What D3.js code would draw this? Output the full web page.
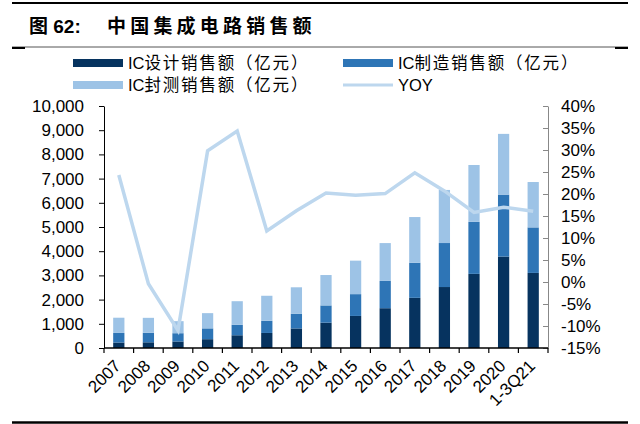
<!DOCTYPE html>
<html lang="zh">
<head>
<meta charset="UTF-8">
<title>中国集成电路销售额</title>
<style>
  body { margin: 0; background: #fff; }
  text { font-family: "Liberation Sans", Arial, "Noto Sans CJK SC", sans-serif; }
</style>
</head>
<body>
<script src="https://cdn.jsdelivr.net/npm/d3@7"></script>
<script>
// data (亿元, %)
var years = ["2007","2008","2009","2010","2011","2012","2013","2014","2015","2016","2017","2018","2019","2020","1-3Q21"];
var design  = [225.7, 235.2, 269.9, 363.9, 526.4, 621.7, 808.8, 1047.4, 1325.0, 1644.3, 2073.5, 2519.3, 3063.5, 3778.4, 3102.8];
var manufac = [397.9, 392.9, 341.1, 447.1, 431.6, 501.1, 600.9, 712.1, 900.8, 1126.9, 1448.1, 1818.2, 2149.1, 2560.1, 1880.7];
var packag  = [627.7, 618.7, 498.1, 629.2, 975.7, 1035.7, 1098.8, 1255.9, 1384.0, 1564.3, 1889.7, 2193.9, 2349.7, 2509.5, 1875.1];
var yoy     = [24.3, -0.4, -11.0, 29.8, 34.3, 11.6, 16.2, 20.2, 19.7, 20.1, 24.8, 20.7, 15.8, 17.0, 16.1];
var leftTicks  = [0,1000,2000,3000,4000,5000,6000,7000,8000,9000,10000];
var rightTicks = [-15,-10,-5,0,5,10,15,20,25,30,35,40];
var seriesNames = ["IC设计销售额（亿元）", "IC制造销售额（亿元）", "IC封测销售额（亿元）", "YOY"];
var colors = ["#06335f", "#2e75b6", "#9dc3e6", "#bdd7ee"];

var svg = d3.select("body").append("svg").attr("width", 640).attr("height", 424);

// frame lines + title
svg.append("line").attr("x1", 12).attr("x2", 628).attr("y1", 3).attr("y2", 3)
  .attr("stroke", "#000").attr("stroke-width", 2);
svg.append("line").attr("x1", 12).attr("x2", 628).attr("y1", 47).attr("y2", 47)
  .attr("stroke", "#555").attr("stroke-width", 1);
svg.append("line").attr("x1", 12).attr("x2", 25).attr("y1", 48).attr("y2", 48)
  .attr("stroke", "#000").attr("stroke-width", 2);
svg.append("line").attr("x1", 615).attr("x2", 628).attr("y1", 48).attr("y2", 48)
  .attr("stroke", "#000").attr("stroke-width", 2);
svg.append("line").attr("x1", 12).attr("x2", 628).attr("y1", 422.5).attr("y2", 422.5)
  .attr("stroke", "#000").attr("stroke-width", 2.5);

svg.append("text").attr("x", 29).attr("y", 33)
  .style("font-size", "19px").style("font-weight", "bold")
  .text("图 62:");
svg.append("text").attr("x", 107).attr("y", 33)
  .style("font-size", "19px").style("font-weight", "bold").style("letter-spacing", "4.2px")
  .text("中国集成电路销售额");

// scales
var pLeft = 104, pRight = 548, pTop = 106, pBottom = 348;
var x = d3.scaleBand().domain(years).range([pLeft, pRight]).paddingInner(0.62).paddingOuter(0.31);
var yL = d3.scaleLinear().domain([0, 10000]).range([pBottom, pTop]);
var yR = d3.scaleLinear().domain([-15, 40]).range([pBottom, pTop]);

// stacked bars
var rows = years.map(function(y, i){ return {year: y, design: design[i], manufac: manufac[i], packag: packag[i]}; });
var stack = d3.stack().keys(["design", "manufac", "packag"])(rows);
svg.selectAll(".layer").data(stack).enter().append("g")
  .attr("fill", function(d, i){ return colors[i]; })
  .selectAll("rect").data(function(d){ return d; }).enter().append("rect")
  .attr("x", function(d){ return x(d.data.year); })
  .attr("width", x.bandwidth())
  .attr("y", function(d){ return yL(d[1]); })
  .attr("height", function(d){ return yL(d[0]) - yL(d[1]); });

// yoy line
var line = d3.line()
  .x(function(d, i){ return x(years[i]) + x.bandwidth() / 2; })
  .y(function(d){ return yR(d); });
svg.append("path").datum(yoy).attr("d", line)
  .attr("fill", "none").attr("stroke", colors[3]).attr("stroke-width", 3.5)
  .attr("stroke-linejoin", "miter");

// left axis
var gL = svg.append("g").attr("transform", "translate(" + pLeft + ",0)")
  .call(d3.axisLeft(yL).tickValues(leftTicks).tickSizeInner(5).tickSizeOuter(0).tickPadding(15)
    .tickFormat(d3.format(",")));
gL.selectAll("text").style("font-size", "17px").attr("fill", "#000");
gL.selectAll("line,path").attr("stroke", "#000");

// right axis
var gR = svg.append("g").attr("transform", "translate(" + pRight + ",0)")
  .call(d3.axisRight(yR).tickValues(rightTicks).tickSizeInner(-5).tickSizeOuter(0).tickPadding(13)
    .tickFormat(function(d){ return d + "%"; }));
gR.selectAll("text").style("font-size", "17px").attr("fill", "#000");
gR.selectAll("line,path").attr("stroke", "#888");

// x axis: line, boundary ticks, rotated labels
svg.append("line").attr("x1", pLeft).attr("x2", pRight).attr("y1", pBottom).attr("y2", pBottom)
  .attr("stroke", "#000").attr("stroke-width", 1.5);
var bounds = years.map(function(d){ return x(d) - (x.step() - x.bandwidth()) / 2; }).concat([pRight]);
svg.selectAll(".xt").data(bounds).enter().append("line")
  .attr("x1", function(d){ return d; }).attr("x2", function(d){ return d; })
  .attr("y1", pBottom).attr("y2", pBottom + 5)
  .attr("stroke", "#000").attr("stroke-width", 1.2);
svg.selectAll(".xl").data(years).enter().append("text")
  .attr("transform", function(d){ return "translate(" + (x(d) + x.bandwidth() / 2 + 3) + "," + (pBottom + 19) + ") rotate(-45)"; })
  .attr("text-anchor", "end")
  .style("font-size", "17px")
  .text(function(d){ return d; });

// legend
var legend = [
  {x: 73, y: 63, i: 0}, {x: 343, y: 63, i: 1},
  {x: 73, y: 85, i: 2}, {x: 343, y: 85, i: 3}
];
var lg = svg.selectAll(".lg").data(legend).enter().append("g");
lg.filter(function(d){ return d.i < 3; }).append("rect")
  .attr("x", function(d){ return d.x; }).attr("y", function(d){ return d.y - 4; })
  .attr("width", 50).attr("height", 8)
  .attr("fill", function(d){ return colors[d.i]; });
lg.filter(function(d){ return d.i === 3; }).append("line")
  .attr("x1", function(d){ return d.x; }).attr("x2", function(d){ return d.x + 50; })
  .attr("y1", function(d){ return d.y; }).attr("y2", function(d){ return d.y; })
  .attr("stroke", colors[3]).attr("stroke-width", 3);
var lt = lg.append("text")
  .attr("x", function(d){ return d.x + 55; }).attr("y", function(d){ return d.y + 6; })
  .style("font-size", "16.5px");
lt.append("tspan")
  .text(function(d){ var n = seriesNames[d.i]; return n.indexOf("IC") === 0 ? "IC" : n; });
lt.append("tspan").style("letter-spacing", "1.8px")
  .text(function(d){ var n = seriesNames[d.i]; return n.indexOf("IC") === 0 ? n.slice(2) : ""; });
</script>
</body>
</html>
